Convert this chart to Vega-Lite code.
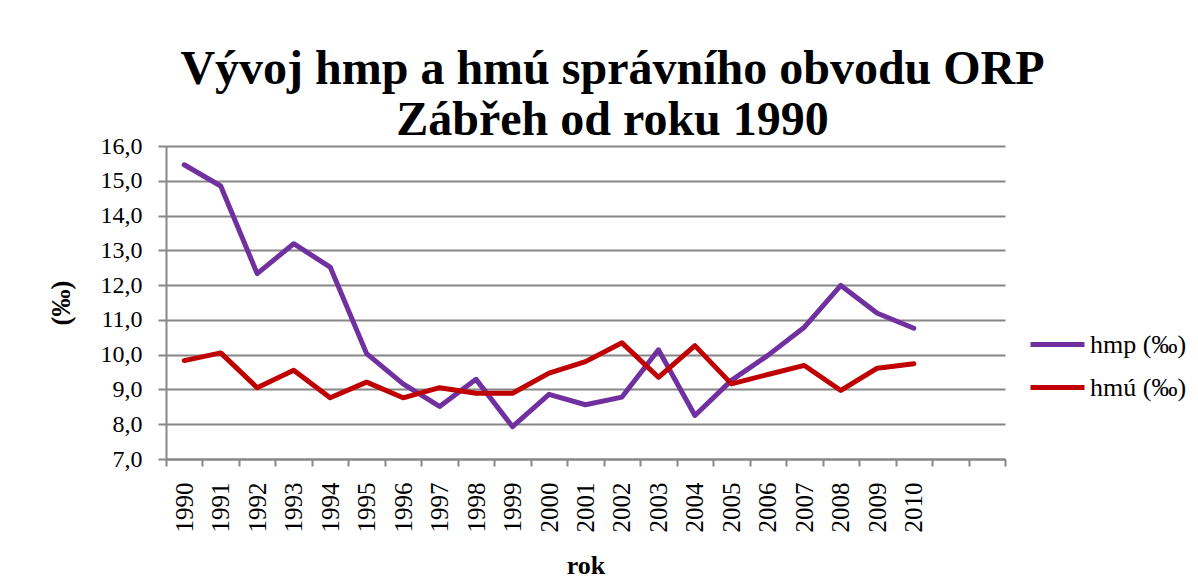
{
  "$schema": "https://vega.github.io/schema/vega-lite/v6.json",
  "width": 839,
  "height": 313,
  "autosize": {"type": "none"},
  "padding": {"left": 166, "top": 146, "right": 193, "bottom": 121},
  "background": "white",
  "title": {
    "text": ["Vývoj hmp a hmú správního obvodu ORP", "Zábřeh od roku 1990"],
    "font": "Liberation Serif",
    "fontSize": 48,
    "fontWeight": "bold",
    "color": "black",
    "anchor": "middle",
    "frame": "group",
    "dx": 27,
    "offset": -11,
    "lineHeight": 51
  },
  "data": {
    "values": [
      {"rok": 1990, "ukazatel": "hmp (‰)", "hodnota": 15.46},
      {"rok": 1991, "ukazatel": "hmp (‰)", "hodnota": 14.85},
      {"rok": 1992, "ukazatel": "hmp (‰)", "hodnota": 12.33},
      {"rok": 1993, "ukazatel": "hmp (‰)", "hodnota": 13.19},
      {"rok": 1994, "ukazatel": "hmp (‰)", "hodnota": 12.52},
      {"rok": 1995, "ukazatel": "hmp (‰)", "hodnota": 10.03},
      {"rok": 1996, "ukazatel": "hmp (‰)", "hodnota": 9.16},
      {"rok": 1997, "ukazatel": "hmp (‰)", "hodnota": 8.51},
      {"rok": 1998, "ukazatel": "hmp (‰)", "hodnota": 9.29},
      {"rok": 1999, "ukazatel": "hmp (‰)", "hodnota": 7.93},
      {"rok": 2000, "ukazatel": "hmp (‰)", "hodnota": 8.86},
      {"rok": 2001, "ukazatel": "hmp (‰)", "hodnota": 8.56},
      {"rok": 2002, "ukazatel": "hmp (‰)", "hodnota": 8.78},
      {"rok": 2003, "ukazatel": "hmp (‰)", "hodnota": 10.14},
      {"rok": 2004, "ukazatel": "hmp (‰)", "hodnota": 8.25},
      {"rok": 2005, "ukazatel": "hmp (‰)", "hodnota": 9.26},
      {"rok": 2006, "ukazatel": "hmp (‰)", "hodnota": 9.98},
      {"rok": 2007, "ukazatel": "hmp (‰)", "hodnota": 10.79},
      {"rok": 2008, "ukazatel": "hmp (‰)", "hodnota": 11.99},
      {"rok": 2009, "ukazatel": "hmp (‰)", "hodnota": 11.19},
      {"rok": 2010, "ukazatel": "hmp (‰)", "hodnota": 10.76},
      {"rok": 1990, "ukazatel": "hmú (‰)", "hodnota": 9.83},
      {"rok": 1991, "ukazatel": "hmú (‰)", "hodnota": 10.05},
      {"rok": 1992, "ukazatel": "hmú (‰)", "hodnota": 9.05},
      {"rok": 1993, "ukazatel": "hmú (‰)", "hodnota": 9.55},
      {"rok": 1994, "ukazatel": "hmú (‰)", "hodnota": 8.76},
      {"rok": 1995, "ukazatel": "hmú (‰)", "hodnota": 9.21},
      {"rok": 1996, "ukazatel": "hmú (‰)", "hodnota": 8.76},
      {"rok": 1997, "ukazatel": "hmú (‰)", "hodnota": 9.05},
      {"rok": 1998, "ukazatel": "hmú (‰)", "hodnota": 8.89},
      {"rok": 1999, "ukazatel": "hmú (‰)", "hodnota": 8.89},
      {"rok": 2000, "ukazatel": "hmú (‰)", "hodnota": 9.47},
      {"rok": 2001, "ukazatel": "hmú (‰)", "hodnota": 9.8},
      {"rok": 2002, "ukazatel": "hmú (‰)", "hodnota": 10.34},
      {"rok": 2003, "ukazatel": "hmú (‰)", "hodnota": 9.35},
      {"rok": 2004, "ukazatel": "hmú (‰)", "hodnota": 10.26},
      {"rok": 2005, "ukazatel": "hmú (‰)", "hodnota": 9.16},
      {"rok": 2006, "ukazatel": "hmú (‰)", "hodnota": 9.43},
      {"rok": 2007, "ukazatel": "hmú (‰)", "hodnota": 9.69},
      {"rok": 2008, "ukazatel": "hmú (‰)", "hodnota": 8.97},
      {"rok": 2009, "ukazatel": "hmú (‰)", "hodnota": 9.61},
      {"rok": 2010, "ukazatel": "hmú (‰)", "hodnota": 9.74}
    ]
  },
  "mark": {"type": "line", "strokeWidth": 5, "strokeJoin": "round", "strokeCap": "round"},
  "encoding": {
    "x": {
      "field": "rok",
      "type": "ordinal",
      "scale": {
        "domain": [1990, 1991, 1992, 1993, 1994, 1995, 1996, 1997, 1998, 1999, 2000, 2001, 2002, 2003, 2004, 2005, 2006, 2007, 2008, 2009, 2010, 2011, 2012],
        "paddingInner": 0,
        "paddingOuter": 0
      },
      "axis": {
        "title": "rok",
        "titleFont": "Liberation Serif",
        "titleFontSize": 26,
        "titleFontWeight": "bold",
        "titleColor": "black",
        "titlePadding": 20,
        "tickBand": "extent",
        "labelAngle": -90,
        "labelFont": "Liberation Serif",
        "labelFontSize": 25,
        "labelColor": "black",
        "labelPadding": 16,
        "labelExpr": "datum.value > 2010 ? '' : datum.label",
        "tickSize": 7,
        "tickWidth": 2,
        "tickColor": "#868686",
        "domainColor": "#868686",
        "domainWidth": 2,
        "grid": false
      }
    },
    "y": {
      "field": "hodnota",
      "type": "quantitative",
      "scale": {"domain": [7, 16], "nice": false, "zero": false},
      "axis": {
        "title": "(‰)",
        "titleFont": "Liberation Serif",
        "titleFontSize": 27,
        "titleFontWeight": "bold",
        "titleColor": "black",
        "titlePadding": 25,
        "values": [7, 8, 9, 10, 11, 12, 13, 14, 15, 16],
        "format": ".1f",
        "labelExpr": "replace(datum.label, '.', ',')",
        "labelFont": "Liberation Serif",
        "labelFontSize": 24,
        "labelColor": "black",
        "labelPadding": 16,
        "tickSize": 8,
        "tickWidth": 2,
        "tickColor": "#868686",
        "domainColor": "#868686",
        "domainWidth": 2,
        "grid": true,
        "gridColor": "#868686",
        "gridWidth": 2
      }
    },
    "color": {
      "field": "ukazatel",
      "type": "nominal",
      "scale": {"domain": ["hmp (‰)", "hmú (‰)"], "range": ["#7030A0", "#C00000"]},
      "legend": {
        "title": null,
        "orient": "none",
        "legendX": 862,
        "legendY": 169,
        "padding": 0,
        "symbolType": "stroke",
        "symbolSize": 2916,
        "symbolStrokeWidth": 5,
        "rowPadding": -10,
        "labelOffset": 3,
        "labelFont": "Liberation Serif",
        "labelFontSize": 26,
        "labelColor": "black"
      }
    }
  },
  "config": {"view": {"stroke": null}}
}
